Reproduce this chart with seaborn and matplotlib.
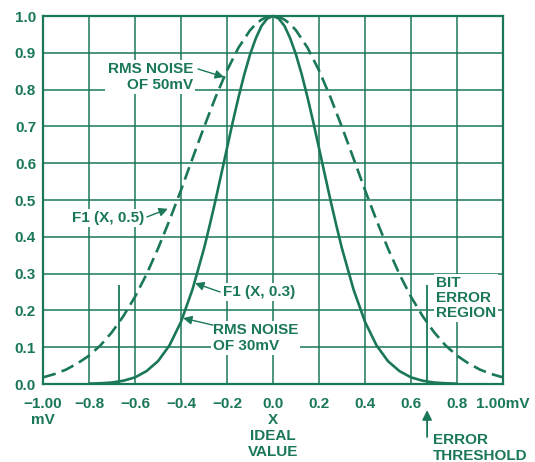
import matplotlib
matplotlib.use("Agg")
import matplotlib.pyplot as plt
import pandas as pd
import seaborn as sns

# ---- data ----
x_solid = [-0.80, -0.75, -0.70, -0.65, -0.60, -0.55, -0.50, -0.45, -0.40, -0.35, -0.30,
           -0.275, -0.25, -0.225, -0.20, -0.175, -0.15, -0.125, -0.10, -0.075, -0.05, -0.025,
           0.00, 0.025, 0.05, 0.075, 0.10, 0.125, 0.15, 0.175, 0.20, 0.225, 0.25, 0.275, 0.30,
           0.35, 0.40, 0.45, 0.50, 0.55, 0.60, 0.65, 0.70, 0.75, 0.80]
y_solid = [0.001, 0.002, 0.004, 0.009, 0.018, 0.035, 0.062, 0.105, 0.169, 0.257, 0.368,
           0.432, 0.499, 0.570, 0.641, 0.712, 0.779, 0.841, 0.895, 0.939, 0.973, 0.993,
           1.000, 0.993, 0.973, 0.939, 0.895, 0.841, 0.779, 0.712, 0.641, 0.570, 0.499, 0.432, 0.368,
           0.257, 0.169, 0.105, 0.062, 0.035, 0.018, 0.009, 0.004, 0.002, 0.001]
x_dash = [-1.00, -0.95, -0.90, -0.85, -0.80, -0.75, -0.70, -0.65, -0.60, -0.55, -0.50,
          -0.45, -0.40, -0.35, -0.30, -0.25, -0.20, -0.15, -0.10, -0.075, -0.05, -0.025,
          0.00, 0.025, 0.05, 0.075, 0.10,
          0.15, 0.20, 0.25, 0.30, 0.35, 0.40, 0.45, 0.50, 0.55, 0.60, 0.65, 0.70, 0.75,
          0.80, 0.85, 0.90, 0.95, 1.00]
y_dash = [0.018, 0.027, 0.039, 0.056, 0.077, 0.105, 0.141, 0.185, 0.237, 0.298, 0.368,
          0.445, 0.527, 0.613, 0.698, 0.779, 0.852, 0.914, 0.961, 0.978, 0.990, 0.998,
          1.000, 0.998, 0.990, 0.978, 0.961,
          0.914, 0.852, 0.779, 0.698, 0.613, 0.527, 0.445, 0.368, 0.298, 0.237, 0.185, 0.141, 0.105,
          0.077, 0.056, 0.039, 0.027, 0.018]
threshold_x = [-0.67, 0.67]
threshold_top = 0.27
x_ticks = [-1.0, -0.8, -0.6, -0.4, -0.2, 0.0, 0.2, 0.4, 0.6, 0.8, 1.0]
x_tick_labels = ["\u22121.00\nmV", "\u22120.8", "\u22120.6", "\u22120.4", "\u22120.2",
                 "0.0\nX\nIDEAL\nVALUE", "0.2", "0.4", "0.6", "0.8", "1.00mV"]
y_ticks = [0.0, 0.1, 0.2, 0.3, 0.4, 0.5, 0.6, 0.7, 0.8, 0.9, 1.0]
y_tick_labels = ["0.0", "0.1", "0.2", "0.3", "0.4", "0.5", "0.6", "0.7", "0.8", "0.9", "1.0"]

GREEN = "#1a7859"

sns.set_style("white")
plt.rcParams["font.family"] = ["Liberation Sans", "DejaVu Sans"]
plt.rcParams["font.weight"] = "bold"

fig = plt.figure(figsize=(5.35, 4.62), dpi=100)
ax = fig.add_axes([43 / 535, 1 - 384 / 462, 460 / 535, 368 / 462])

df_s = pd.DataFrame({"x": x_solid, "y": y_solid})
df_d = pd.DataFrame({"x": x_dash, "y": y_dash})
sns.lineplot(data=df_s, x="x", y="y", ax=ax, color=GREEN, lw=1.9, zorder=4, clip_on=False)
sns.lineplot(data=df_d, x="x", y="y", ax=ax, color=GREEN, lw=1.9, zorder=4, clip_on=False)
ax.lines[-1].set_dashes((5, 2.4))
ax.vlines(threshold_x, 0, threshold_top, color=GREEN, lw=1.3, zorder=4)

ax.set_xlim(-1, 1)
ax.set_ylim(0, 1)
ax.set_xticks(x_ticks)
ax.set_xticklabels(x_tick_labels)
ax.set_yticks(y_ticks)
ax.set_yticklabels(y_tick_labels)
ax.set_xlabel("")
ax.set_ylabel("")
ax.tick_params(axis="both", length=0, labelsize=11, labelcolor=GREEN)
ax.tick_params(axis="x", pad=9)
ax.tick_params(axis="y", pad=5)
for lab in ax.get_xticklabels() + ax.get_yticklabels():
    lab.set_fontweight("bold")

ax.grid(True, color=GREEN, lw=1.1, zorder=0)
ax.set_axisbelow(True)
for sp in ax.spines.values():
    sp.set_color(GREEN)
    sp.set_linewidth(1.6)

txt = dict(color=GREEN, fontsize=11, fontweight="bold", zorder=3,
           bbox=dict(facecolor="white", edgecolor="none", pad=1.5))
arrow = dict(arrowstyle="-|>", color=GREEN, lw=1.0, mutation_scale=13, shrinkA=0, shrinkB=0)

ax.text(-0.348, 0.834, "RMS NOISE\nOF 50mV", ha="right", va="center", multialignment="right", **txt)
ax.annotate("", xy=(-0.213, 0.834), xytext=(-0.326, 0.856), arrowprops=arrow, zorder=5)

ax.text(-0.874, 0.451, "F1 (X, 0.5)", ha="left", va="center", **txt)
ax.annotate("", xy=(-0.457, 0.476), xytext=(-0.548, 0.454), arrowprops=arrow, zorder=5)

ax.text(-0.217, 0.250, "F1 (X, 0.3)", ha="left", va="center", **txt)
ax.annotate("", xy=(-0.339, 0.274), xytext=(-0.230, 0.250), arrowprops=arrow, zorder=5)

ax.text(-0.261, 0.125, "RMS NOISE\nOF 30mV", ha="left", va="center", multialignment="left", **txt)
ax.annotate("", xy=(-0.391, 0.179), xytext=(-0.261, 0.160), arrowprops=arrow, zorder=5)

ax.text(0.709, 0.234, "BIT\nERROR\nREGION", ha="left", va="center", multialignment="left",
        linespacing=1.1, **txt)

ax.annotate("", xy=(0.67, -0.071), xytext=(0.67, -0.144), xycoords=("data", "axes fraction"),
            textcoords=("data", "axes fraction"), annotation_clip=False,
            arrowprops=dict(arrowstyle="-|>", color=GREEN, lw=1.3, mutation_scale=14,
                            shrinkA=0, shrinkB=0))
ax.text(0.696, -0.174, "ERROR\nTHRESHOLD", ha="left", va="center", multialignment="left",
        transform=ax.get_xaxis_transform(), color=GREEN, fontsize=11, fontweight="bold",
        clip_on=False)

fig.savefig("out.png", dpi=100)
